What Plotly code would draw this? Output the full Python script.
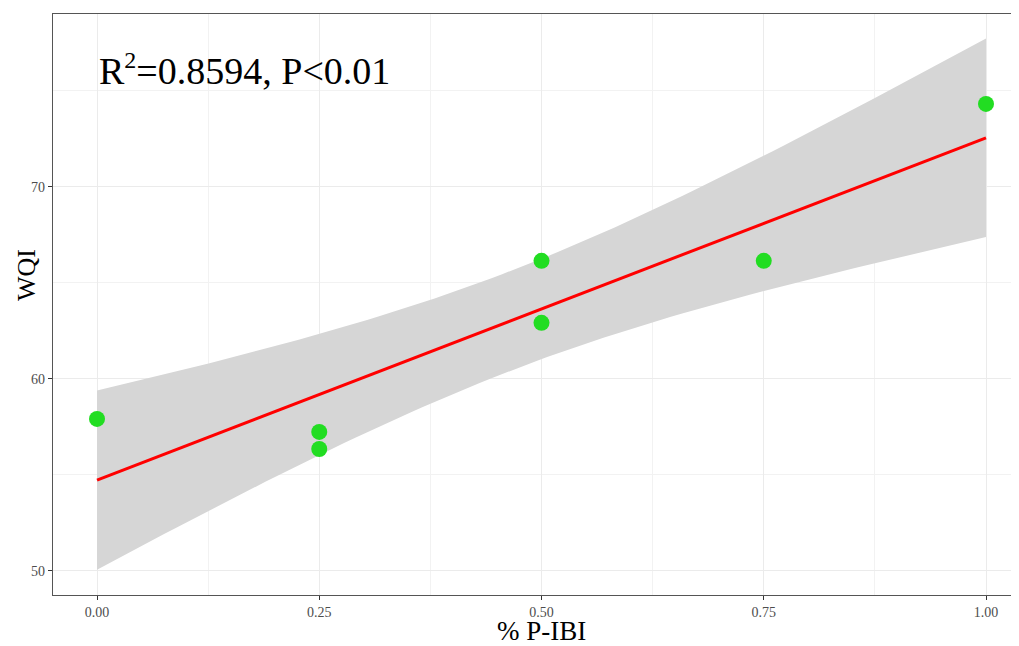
import numpy as np
import plotly.graph_objects as go

# Data
p_ibi = [0.0, 0.25, 0.25, 0.50, 0.50, 0.75, 1.00]
wqi = [57.92, 57.24, 56.35, 66.15, 62.92, 66.15, 74.32]
x_ticks = [0.0, 0.25, 0.5, 0.75, 1.0]
x_tick_labels = ["0.00", "0.25", "0.50", "0.75", "1.00"]
y_ticks = [50, 60, 70]
y_tick_labels = ["50", "60", "70"]
annotation_text = "R<sup><span style='font-size:24px'>2</span></sup>=0.8594, P<0.01"
x_title = "% P-IBI"
y_title = "WQI"

# Linear fit with 95% confidence band (as geom_smooth(method='lm'))
x = np.array(p_ibi)
y = np.array(wqi)
n = len(x)
slope, intercept = np.polyfit(x, y, 1)
resid = y - (intercept + slope * x)
s = np.sqrt(np.sum(resid ** 2) / (n - 2))
t_crit = 2.5706  # t(0.975, df=5)
xs = np.linspace(x.min(), x.max(), 80)
fit = intercept + slope * xs
se = s * np.sqrt(1 / n + (xs - x.mean()) ** 2 / np.sum((x - x.mean()) ** 2))
upper = fit + t_crit * se
lower = fit - t_crit * se

font_family = "Liberation Serif, Times New Roman, serif"

fig = go.Figure()
fig.add_trace(go.Scatter(
    x=np.concatenate([xs, xs[::-1]]), y=np.concatenate([upper, lower[::-1]]),
    fill="toself", fillcolor="rgb(214,214,214)", line=dict(width=0),
    mode="lines", hoverinfo="skip", showlegend=False))
fig.add_trace(go.Scatter(
    x=xs, y=fit, mode="lines", line=dict(color="#ff0000", width=3),
    showlegend=False))
fig.add_trace(go.Scatter(
    x=p_ibi, y=wqi, mode="markers",
    marker=dict(color="#22dd22", size=16, line=dict(width=0)),
    showlegend=False))

fig.add_annotation(
    x=0, y=76.1, xref="x", yref="y", xanchor="left", yanchor="middle",
    text=annotation_text, showarrow=False,
    font=dict(family=font_family, size=38, color="black"))

axis_common = dict(
    showline=True, linecolor="#555555", linewidth=1.2,
    ticks="outside", ticklen=4, tickcolor="#333333", tickwidth=1.2,
    gridcolor="#ebebeb", gridwidth=1.1, zeroline=False, automargin=False,
    tickfont=dict(family=font_family, size=14, color="#4d4d4d"),
)

# The page body adds an 8px offset; positions below are page pixels minus 8.
OFF = 8
W, H = 1003, 638
L, T = 53 - OFF, 14 - OFF
R = 0
B = H - (595 - OFF)
right_px = OFF + W - R  # page pixel of right plot edge
x_right = 1.0 + (right_px - 986) / 889.0

fig.update_xaxes(
    range=[-0.0495, x_right], tickvals=x_ticks, ticktext=x_tick_labels,
    mirror=True,
    minor=dict(dtick=0.25, tick0=0.125, showgrid=True, gridcolor="#f2f2f2", gridwidth=0.6, ticks=""),
    **axis_common)
fig.update_yaxes(
    range=[48.75, 79.0], tickvals=y_ticks, ticktext=y_tick_labels,
    minor=dict(dtick=10, tick0=55, showgrid=True, gridcolor="#f2f2f2", gridwidth=0.6, ticks=""),
    **axis_common)

fig.update_layout(
    width=W, height=H,
    margin=dict(l=L, r=R, t=T, b=B, autoexpand=False),
    plot_bgcolor="white", paper_bgcolor="white",
    font=dict(family=font_family),
)

pw, ph = W - L - R, H - T - B


def px_to_paper(px, py):
    return (px - OFF - L) / pw, (H - B - (py - OFF)) / ph


xt = px_to_paper(541, 631)
yt = px_to_paper(26, 275)
fig.add_annotation(
    x=xt[0], y=xt[1], xref="paper", yref="paper", text=x_title, showarrow=False,
    xanchor="center", yanchor="middle",
    font=dict(family=font_family, size=27, color="black"))
fig.add_annotation(
    x=yt[0], y=yt[1], xref="paper", yref="paper", text=y_title, showarrow=False,
    xanchor="center", yanchor="middle", textangle=-90,
    font=dict(family=font_family, size=26, color="black"))

fig.write_html("out.html")
